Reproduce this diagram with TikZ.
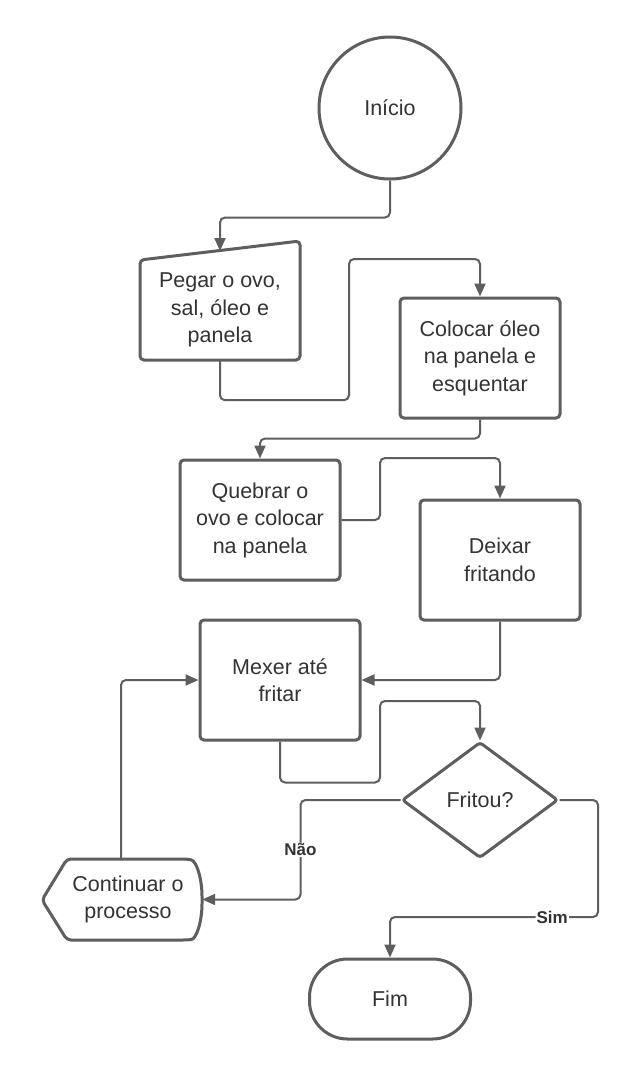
\documentclass[tikz,border=0pt]{standalone}
\usepackage{fontspec}
\setmainfont{Liberation Sans}
\usetikzlibrary{arrows.meta,shapes.geometric}
\definecolor{linegray}{HTML}{5E5E5E}
\definecolor{textgray}{HTML}{333333}
\begin{document}
\begin{tikzpicture}[x=1pt,y=-1pt,
    shapeline/.style={draw=linegray,line width=3pt,rounded corners=4pt},
    box/.style={shapeline,minimum width=160pt,minimum height=120pt,align=center,text=textgray,font=\fontsize{21.5}{27.5}\selectfont},
    plain/.style={align=center,text=textgray,font=\fontsize{21.5}{27.5}\selectfont,inner sep=0pt},
    flow/.style={draw=linegray,line width=2pt,rounded corners=5pt,-{Triangle[length=13pt,width=11pt]}},
    answer/.style={fill=white,text=textgray,font=\fontsize{17}{17}\bfseries\selectfont,inner sep=1pt}]
    \fill[white] (0,0) rectangle (640,1080);
    \useasboundingbox (0,0) rectangle (640,1080);
    % shapes
    \node[circle,draw=linegray,line width=3pt,minimum size=142pt,text=textgray,font=\fontsize{21.5}{27.5}\selectfont] (inicio) at (390,108) {Início};
    \draw[shapeline] (140,260) -- (300,241) -- (300,360) -- (140,360) -- cycle;
    \node[plain,minimum width=160pt,minimum height=100pt] (pegar) at (220,310) {Pegar o ovo,\\sal, óleo e\\panela};
    \coordinate (pegartop) at (220,251);
    \node[box] (colocar) at (480,358) {Colocar óleo\\na panela e\\esquentar};
    \node[box] (quebrar) at (260,520) {Quebrar o\\ovo e colocar\\na panela};
    \node[box] (deixar) at (500,560) {Deixar\\fritando};
    \node[box] (mexer) at (280,680) {Mexer até\\fritar};
    \node[diamond,shapeline,rounded corners=3pt,minimum width=156pt,minimum height=116pt,aspect=1.34,inner sep=0pt,text=textgray,font=\fontsize{21.5}{27.5}\selectfont] (fritou) at (480,800) {Fritou?};
    \draw[shapeline] (42,900) -- (67,859) -- (187,859) .. controls (197,861) and (202,880) .. (202,900) .. controls (202,920) and (197,939) .. (187,940) -- (67,940) -- cycle;
    \node[plain,minimum width=148pt,minimum height=81pt] (continuar) at (128,899.5) {Continuar o\\processo};
    \node[box,minimum width=161pt,minimum height=80pt,rounded corners=38pt] (fim) at (390,999) {Fim};
    % connectors
    \draw[flow] (inicio.south) -- ++(0,37) -| (pegartop);
    \draw[flow] (pegar.south) -- ++(0,40) -| (349,259) -| (colocar.north);
    \draw[flow] (colocar.south) -- ++(0,19) -| (quebrar.north);
    \draw[flow] (quebrar.east) -| (380,458) -| (deixar.north);
    \draw[flow] (deixar.south) |- (mexer.east);
    \draw[flow] (mexer.south) -- ++(0,41) -| (380,701) -| (fritou.north);
    \draw[flow] (fritou.west) -- ++(-100,0) |- node[answer,pos=0.25] {Não} (continuar.east);
    \draw[flow] ([xshift=-7pt]continuar.north) |- (mexer.west);
    \draw[flow] (fritou.east) -| (598,917) -| node[answer,pos=0.11] {Sim} (fim.north);
\end{tikzpicture}
\end{document}
